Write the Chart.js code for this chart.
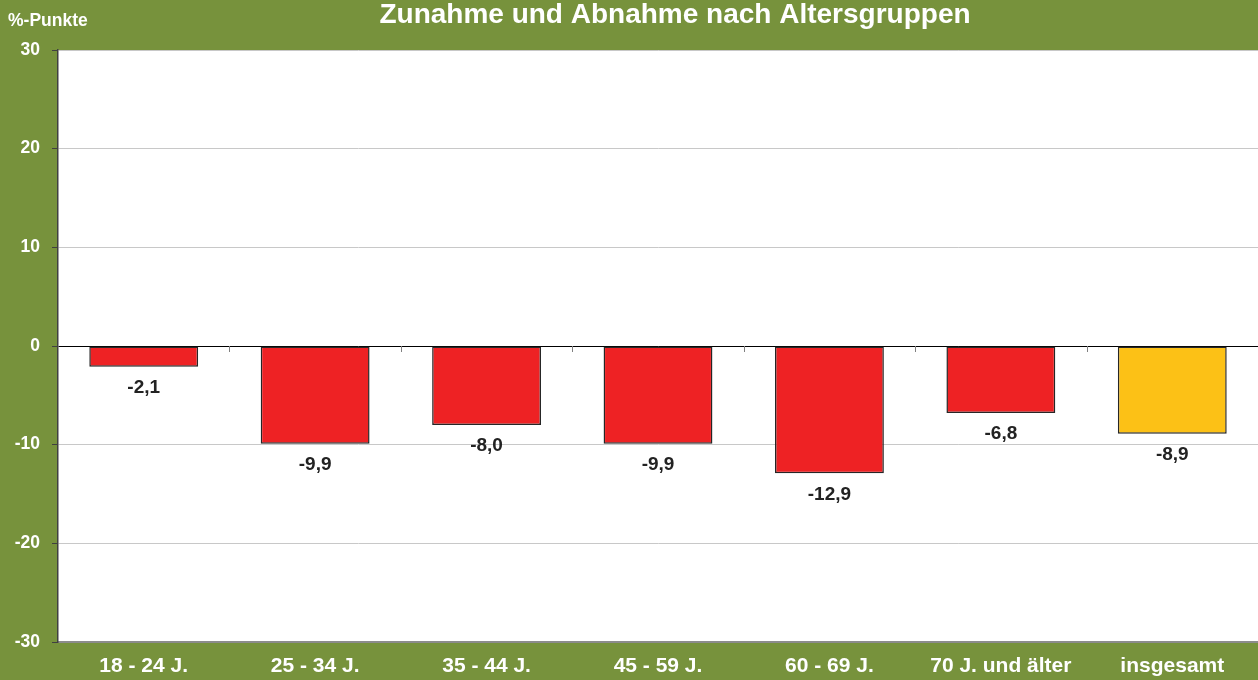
<!DOCTYPE html>
<html>
<head>
<meta charset="utf-8">
<script src="https://cdn.jsdelivr.net/npm/chart.js@4"></script>
<style>
  body { margin: 0; background: #77923c; }
  #wrap { width: 1258px; height: 680px; position: relative; }
</style>
</head>
<body>
<div id="wrap"><canvas id="chart"></canvas></div>
<script>
var categories = ["18 - 24 J.", "25 - 34 J.", "35 - 44 J.", "45 - 59 J.", "60 - 69 J.", "70 J. und älter", "insgesamt"];
var values = [-2.1, -9.9, -8.0, -9.9, -12.9, -6.8, -8.9];
var barColors = ["#ee2224", "#ee2224", "#ee2224", "#ee2224", "#ee2224", "#ee2224", "#fcc116"];
var yTicks = [30, 20, 10, 0, -10, -20, -30];

var FONT = "'Liberation Sans', Arial, sans-serif";

// background, white plot area, title texts
var frame = {
  id: "frame",
  beforeDraw: function (chart) {
    var ctx = chart.ctx, a = chart.chartArea;
    ctx.save();
    ctx.fillStyle = "#77923c";
    ctx.fillRect(0, 0, chart.width, chart.height);
    ctx.fillStyle = "#ffffff";
    ctx.fillRect(a.left, a.top, a.right - a.left, a.bottom - a.top);
    ctx.fillStyle = "#ffffff";
    ctx.textBaseline = "middle";
    ctx.font = "bold 28px " + FONT;
    ctx.textAlign = "center";
    ctx.fillText("Zunahme und Abnahme nach Altersgruppen", 675, 15);
    ctx.font = "bold 17.5px " + FONT;
    ctx.textAlign = "left";
    ctx.fillText("%-Punkte", 8, 21);
    ctx.restore();
  },
  afterDatasetsDraw: function (chart) {
    var ctx = chart.ctx;
    var x = chart.scales.x, y = chart.scales.y;
    var zeroY = y.getPixelForValue(0);
    ctx.save();
    // small category ticks on the zero line
    ctx.strokeStyle = "#808080";
    ctx.lineWidth = 1;
    for (var i = 1; i < categories.length; i++) {
      var bx = Math.round((x.getPixelForTick(i - 1) + x.getPixelForTick(i)) / 2) + 0.5;
      ctx.beginPath();
      ctx.moveTo(bx, zeroY);
      ctx.lineTo(bx, zeroY + 6);
      ctx.stroke();
    }
    // value labels under bars
    ctx.fillStyle = "#222222";
    ctx.font = "bold 19px " + FONT;
    ctx.textAlign = "center";
    ctx.textBaseline = "middle";
    chart.getDatasetMeta(0).data.forEach(function (bar, i) {
      ctx.fillText(values[i].toFixed(1).replace(".", ","), bar.x, bar.y + 21);
    });
    ctx.restore();
  }
};

new Chart(document.getElementById("chart"), {
  type: "bar",
  data: {
    labels: categories,
    datasets: [{
      data: values,
      backgroundColor: barColors,
      borderColor: "#262626",
      borderWidth: 1.5,
      borderSkipped: false,
      categoryPercentage: 1,
      barPercentage: 0.635
    }]
  },
  options: {
    responsive: true,
    maintainAspectRatio: false,
    animation: false,
    layout: { padding: { top: 50, right: 0, left: 0, bottom: 0 } },
    plugins: {
      legend: { display: false },
      title: { display: false },
      tooltip: { enabled: false }
    },
    scales: {
      x: {
        grid: { display: false, drawTicks: false },
        border: { display: true, color: "#8c8c8c", width: 2 },
        ticks: {
          color: "#ffffff",
          font: { family: FONT, size: 21, weight: "bold" },
          padding: 12,
          maxRotation: 0,
          autoSkip: false
        },
        afterFit: function (s) { s.height = 38; }
      },
      y: {
        min: -30,
        max: 30,
        afterBuildTicks: function (s) {
          s.ticks = yTicks.map(function (v) { return { value: v }; });
        },
        grid: {
          color: function (c) { return c.tick && c.tick.value === 0 ? "#000000" : "#c8c8c8"; },
          lineWidth: 1,
          drawTicks: true,
          tickLength: 6,
          tickColor: "#404040"
        },
        border: { display: true, color: "#404040", width: 1.5 },
        ticks: {
          color: "#ffffff",
          font: { family: FONT, size: 17.5, weight: "bold" },
          padding: 12
        },
        afterFit: function (s) { s.width = 58; }
      }
    }
  },
  plugins: [frame]
});
</script>
</body>
</html>
